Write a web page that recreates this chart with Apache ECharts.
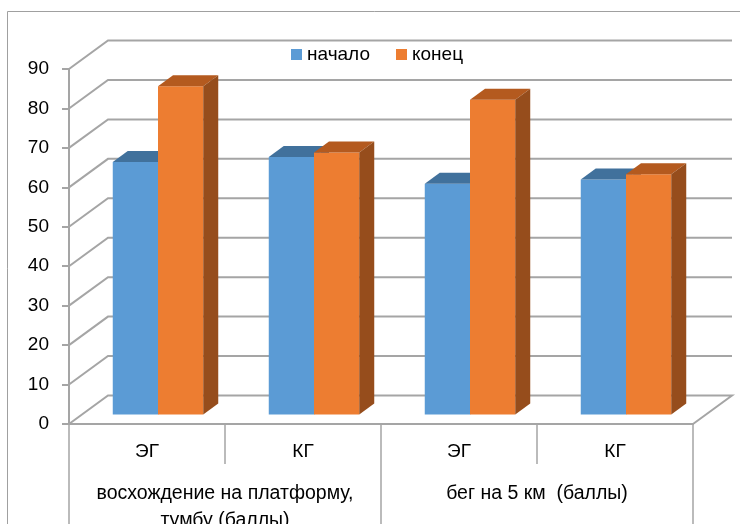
<!DOCTYPE html>
<html>
<head>
<meta charset="utf-8">
<script src="https://cdn.jsdelivr.net/npm/echarts@6/dist/echarts.min.js"></script>
<style>
  html, body { margin: 0; padding: 0; background: #fff; }
  #chart { width: 740px; height: 524px; }
</style>
</head>
<body>
<div id="chart"></div>
<script>
const categories = ['ЭГ', 'КГ', 'ЭГ', 'КГ']
const groups = ['восхождение на платформу,\nтумбу (баллы)', 'бег на 5 км  (баллы)']
const startValues = [64, 65.3, 58.5, 59.6]
const endValues = [83.2, 66.4, 79.8, 60.9]
const yTicks = [0, 10, 20, 30, 40, 50, 60, 70, 80, 90]

const FONT = 'Liberation Sans'
const LINE = '#a5a5a5'
// wall depth offset, bar front offset, bar depth
const DX = 39, DY = -28.5
const OFF_X = 11, OFF_Y = -9.5
const DEP_X = 15, DEP_Y = -11

const chart = echarts.init(document.getElementById('chart'))

// back wall + side wall grid lines + floor
function wallRender(params, api) {
  const cs = params.coordSys
  const v = api.value(1)
  const p = api.coord([0, v])
  const x0 = cs.x, x1 = cs.x + cs.width, y = p[1]
  const style = { stroke: LINE, lineWidth: 2, fill: null }
  if (v === 0) {
    return {
      type: 'polyline',
      shape: { points: [[x0, y], [x0 + DX, y + DY], [x1 + DX, y + DY], [x1, y]] },
      style
    }
  }
  return {
    type: 'polyline',
    shape: { points: [[x0, y], [x0 + DX, y + DY], [x1 + DX, y + DY]] },
    style
  }
}

function barRender(front, top, side, shift) {
  return function (params, api) {
    const idx = api.value(0)
    const base = api.coord([idx, 0])
    const tip = api.coord([idx, api.value(1)])
    const band = api.size([1, 0])[0]
    const w = band * 0.29
    const xl = base[0] + OFF_X + shift * w
    const xr = xl + w
    const ty = tip[1] + OFF_Y
    const by = base[1] + OFF_Y
    return {
      type: 'group',
      children: [
        { type: 'rect', shape: { x: xl, y: ty, width: w, height: by - ty }, style: { fill: front } },
        { type: 'polygon', shape: { points: [[xl, ty], [xr, ty], [xr + DEP_X, ty + DEP_Y], [xl + DEP_X, ty + DEP_Y]] }, style: { fill: top } },
        { type: 'polygon', shape: { points: [[xr, ty], [xr + DEP_X, ty + DEP_Y], [xr + DEP_X, by + DEP_Y], [xr, by]] }, style: { fill: side } }
      ]
    }
  }
}

chart.setOption({
  animation: false,
  backgroundColor: '#fff',
  graphic: [{
    type: 'rect',
    shape: { x: 7.5, y: 11.5, width: 800, height: 600 },
    style: { fill: null, stroke: '#a0a0a0', lineWidth: 1 },
    silent: true
  }],
  grid: { left: 69, right: 47, top: 69, bottom: 100, outerBoundsMode: 'none', containLabel: false },
  legend: {
    data: ['начало', 'конец'],
    left: 286,
    top: 40,
    icon: 'rect',
    itemWidth: 11,
    itemHeight: 11,
    itemGap: 26,
    textStyle: { fontFamily: FONT, fontSize: 19, color: '#000' }
  },
  xAxis: [
    {
      type: 'category',
      data: categories,
      position: 'bottom',
      axisLine: { show: true, lineStyle: { color: LINE, width: 2 } },
      axisTick: { show: true, interval: 0, length: 40, lineStyle: { color: LINE, width: 1.5 } },
      axisLabel: { interval: 0, hideOverlap: false, margin: 18, lineHeight: 20, color: '#000', fontFamily: FONT, fontSize: 19 }
    },
    {
      type: 'category',
      data: groups,
      position: 'bottom',
      axisLine: { show: false },
      axisTick: { show: true, interval: 0, length: 110, lineStyle: { color: LINE, width: 1.5 } },
      axisLabel: { interval: 0, hideOverlap: false, margin: 56, lineHeight: 27, color: '#000', fontFamily: FONT, fontSize: 19.5 }
    }
  ],
  yAxis: {
    type: 'value',
    min: 0,
    max: 90,
    interval: 10,
    axisLine: { show: true, lineStyle: { color: LINE, width: 2 } },
    axisTick: { show: true, length: 7, lineStyle: { color: LINE, width: 2 } },
    splitLine: { show: false },
    axisLabel: { margin: 20, color: '#000', fontFamily: FONT, fontSize: 19 }
  },
  series: [
    {
      name: 'wall',
      type: 'custom',
      silent: true,
      renderItem: wallRender,
      data: yTicks.map(v => [0, v]),
      z: 1
    },
    {
      name: 'начало',
      type: 'custom',
      itemStyle: { color: '#5B9BD5' },
      renderItem: barRender('#5B9BD5', '#41719C', '#3A6591', -1),
      data: startValues.map((v, i) => [i, v]),
      z: 2
    },
    {
      name: 'конец',
      type: 'custom',
      itemStyle: { color: '#ED7D31' },
      renderItem: barRender('#ED7D31', '#B45A1F', '#964D1C', 0),
      data: endValues.map((v, i) => [i, v]),
      z: 3
    }
  ]
})
</script>
</body>
</html>
